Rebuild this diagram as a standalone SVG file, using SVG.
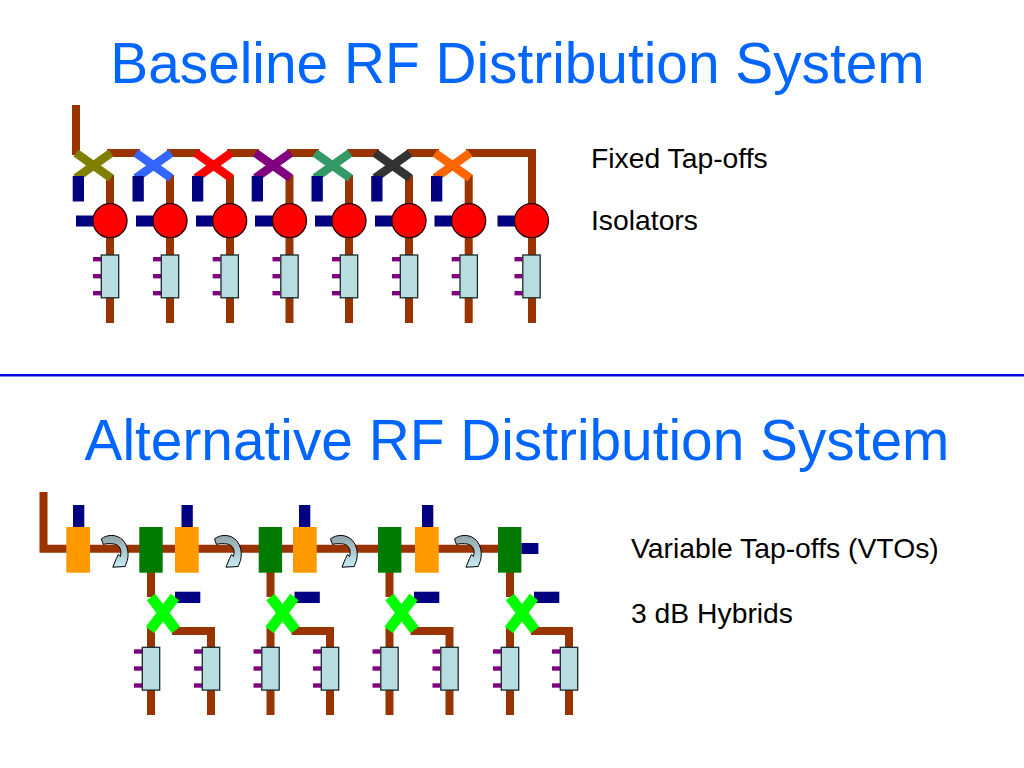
<svg xmlns="http://www.w3.org/2000/svg" xmlns:xlink="http://www.w3.org/1999/xlink" width="1024" height="768" viewBox="0 0 1024 768">
<style>
text{font-family:"Liberation Sans",Arial,sans-serif}
.title{font-size:56.8px;fill:#0066ff}
.label{font-size:28.300px;fill:#000}
.w{fill:none;stroke:#993300;stroke-width:8;stroke-linejoin:miter}
.n{fill:#000080}
.p{fill:#800080}
.b{fill:#b8dde1;stroke:#1a2a2a;stroke-width:1.300}
.iso{fill:#ff0000;stroke:#220000;stroke-width:1.300}
.o{fill:#ff9900}
.g{fill:#007a00}
.x{fill:none;stroke-width:8.500}
.xg{fill:none;stroke:#00ff00;stroke-width:10.500}
.arr{fill:url(#ag);stroke:#000;stroke-width:1}
</style>
<defs>
<linearGradient id="ag" x1="0" y1="0" x2="0" y2="1"><stop offset="0" stop-color="#8fa3a8"/><stop offset="1" stop-color="#c8ecf4"/></linearGradient>
<g id="tp"><rect class="p" x="-17" y="2" width="8" height="4.400"/><rect class="p" x="-17" y="19" width="8" height="4.400"/><rect class="p" x="-17" y="36" width="8" height="4.400"/><rect class="b" x="-8.700" y="0" width="17.400" height="42.800"/></g>
<path id="ca" class="arr" d="M0 4.300C6 0 15 -1 22 6C26 11 28 18 26 26L23.700 32L11.500 32.700L15 24L17 20L19 22C21 15 18 10.500 13 9.500C9 8.800 4 9 2 10Z"/>
<path id="bx" d="M-16 -12L19 13M19 -12L-16 13"/>
</defs>

<text class="title" x="517.500" y="82.500" text-anchor="middle">Baseline RF Distribution System</text>
<text class="title" x="517" y="459.500" text-anchor="middle">Alternative RF Distribution System</text>
<rect x="0" y="374" width="1024" height="2.500" fill="#0000e0"/>
<text class="label" x="591" y="168.300">Fixed Tap-offs</text>
<text class="label" x="591" y="230">Isolators</text>
<text class="label" x="631" y="558">Variable Tap-offs (VTOs)</text>
<text class="label" x="631" y="622.500">3 dB Hybrids</text>

<g id="connectors">
<path class="w" d="M76 105V155"/>
<path class="w" d="M107 153H140M167 153H200M227 153H259M287 153H319M347 153H379M407 153H439M466 153H532V323"/>
<path class="w" d="M110 175V323M170 175V323M230 175V323M289.500 175V323M349 175V323M409 175V323M468.700 175V323"/>
<path class="w" d="M43.500 492V548.700H510"/>
<path class="w" d="M151 572V597M151 628V715M270.500 572V597M270.500 628V715M389.500 572V597M389.500 628V715M510 572V597M510 628V715"/>
<path class="w" d="M172 631H211V715M291.500 631H330V715M410.500 631H449.500V715M531 631H569V715"/>
</g>

<g id="taps-top">
<g id="tap1" class="x" stroke="#808000" transform="translate(92 165)"><use xlink:href="#bx"/></g>
<g id="tap2" class="x" stroke="#3366ff" transform="translate(152 165)"><use xlink:href="#bx"/></g>
<g id="tap3" class="x" stroke="#ff0000" transform="translate(212 165)"><use xlink:href="#bx"/></g>
<g id="tap4" class="x" stroke="#800080" transform="translate(271.500 165)"><use xlink:href="#bx"/></g>
<g id="tap5" class="x" stroke="#339966" transform="translate(331 165)"><use xlink:href="#bx"/></g>
<g id="tap6" class="x" stroke="#333333" transform="translate(391 165)"><use xlink:href="#bx"/></g>
<g id="tap7" class="x" stroke="#ff6600" transform="translate(451 165)"><use xlink:href="#bx"/></g>
</g>
<g id="loads-v" class="n">
<rect x="72.700" y="176" width="11.300" height="25.500"/><rect x="132.500" y="176" width="11.300" height="25.500"/><rect x="192" y="176" width="11.300" height="25.500"/><rect x="251.700" y="176" width="11.300" height="25.500"/><rect x="311.500" y="176" width="11.300" height="25.500"/><rect x="371.200" y="176" width="11.300" height="25.500"/><rect x="431" y="176" width="11.300" height="25.500"/>
</g>
<g id="isolators">
<g id="iso1"><rect class="n" x="76" y="215.500" width="20" height="11"/><circle class="iso" cx="110" cy="220.700" r="17"/></g>
<g id="iso2"><rect class="n" x="136" y="215.500" width="20" height="11"/><circle class="iso" cx="170" cy="220.700" r="17"/></g>
<g id="iso3"><rect class="n" x="196" y="215.500" width="20" height="11"/><circle class="iso" cx="229.700" cy="220.700" r="17"/></g>
<g id="iso4"><rect class="n" x="255" y="215.500" width="20" height="11"/><circle class="iso" cx="289.500" cy="220.700" r="17"/></g>
<g id="iso5"><rect class="n" x="315" y="215.500" width="20" height="11"/><circle class="iso" cx="349" cy="220.700" r="17"/></g>
<g id="iso6"><rect class="n" x="375" y="215.500" width="20" height="11"/><circle class="iso" cx="409" cy="220.700" r="17"/></g>
<g id="iso7"><rect class="n" x="434.500" y="215.500" width="20" height="11"/><circle class="iso" cx="468.700" cy="220.700" r="17"/></g>
<g id="iso8"><rect class="n" x="497.500" y="215.500" width="20" height="11"/><circle class="iso" cx="531.500" cy="220.700" r="17"/></g>
</g>
<g id="modules-top">
<use id="m1" xlink:href="#tp" x="110" y="255"/><use id="m2" xlink:href="#tp" x="170" y="255"/><use id="m3" xlink:href="#tp" x="229.700" y="255"/><use id="m4" xlink:href="#tp" x="289.500" y="255"/><use id="m5" xlink:href="#tp" x="349" y="255"/><use id="m6" xlink:href="#tp" x="409" y="255"/><use id="m7" xlink:href="#tp" x="468.700" y="255"/><use id="m8" xlink:href="#tp" x="531.500" y="255"/>
</g>

<g id="vtos">
<g id="vo1"><rect class="n" x="73" y="505" width="11.300" height="22"/><rect class="o" x="66.300" y="527" width="23.700" height="45.700"/></g>
<g id="vo2"><rect class="n" x="181.500" y="505" width="11.300" height="22"/><rect class="o" x="175" y="527" width="23.700" height="45.700"/></g>
<g id="vo3"><rect class="n" x="299" y="505" width="11.300" height="22"/><rect class="o" x="293" y="527" width="23.700" height="45.700"/></g>
<g id="vo4"><rect class="n" x="422" y="505" width="11.300" height="22"/><rect class="o" x="415" y="527" width="23.700" height="45.700"/></g>
<rect id="vg1" class="g" x="139.300" y="527" width="23.400" height="45.700"/>
<rect id="vg2" class="g" x="258.700" y="527" width="23.400" height="45.700"/>
<rect id="vg3" class="g" x="378" y="527" width="23.400" height="45.700"/>
<rect id="vg4" class="g" x="498" y="527" width="23.400" height="45.700"/>
<rect id="end" class="n" x="521.400" y="543" width="17" height="11"/>
</g>
<g id="arrows">
<use xlink:href="#ca" x="101.300" y="534.500"/><use xlink:href="#ca" x="214.500" y="534.500"/><use xlink:href="#ca" x="330.500" y="534.500"/><use xlink:href="#ca" x="454.500" y="534.500"/>
</g>
<g id="hybrids">
<g id="h1"><rect class="n" x="175" y="591.700" width="25.300" height="11.300"/><path class="xg" d="M151 597L176 630M175 597L150 630"/></g>
<g id="h2"><rect class="n" x="294.500" y="591.700" width="25.300" height="11.300"/><path class="xg" d="M270.500 597L295.500 630M294.500 597L269.500 630"/></g>
<g id="h3"><rect class="n" x="414" y="591.700" width="25.300" height="11.300"/><path class="xg" d="M389.500 597L414.500 630M413.500 597L388.500 630"/></g>
<g id="h4"><rect class="n" x="534" y="591.700" width="25.300" height="11.300"/><path class="xg" d="M510 597L535 630M534 597L509 630"/></g>
</g>
<g id="modules-bottom">
<use xlink:href="#tp" x="151" y="647.300"/><use xlink:href="#tp" x="211" y="647.300"/><use xlink:href="#tp" x="270.500" y="647.300"/><use xlink:href="#tp" x="330" y="647.300"/><use xlink:href="#tp" x="389.500" y="647.300"/><use xlink:href="#tp" x="449.500" y="647.300"/><use xlink:href="#tp" x="510" y="647.300"/><use xlink:href="#tp" x="569" y="647.300"/>
</g>
</svg>
